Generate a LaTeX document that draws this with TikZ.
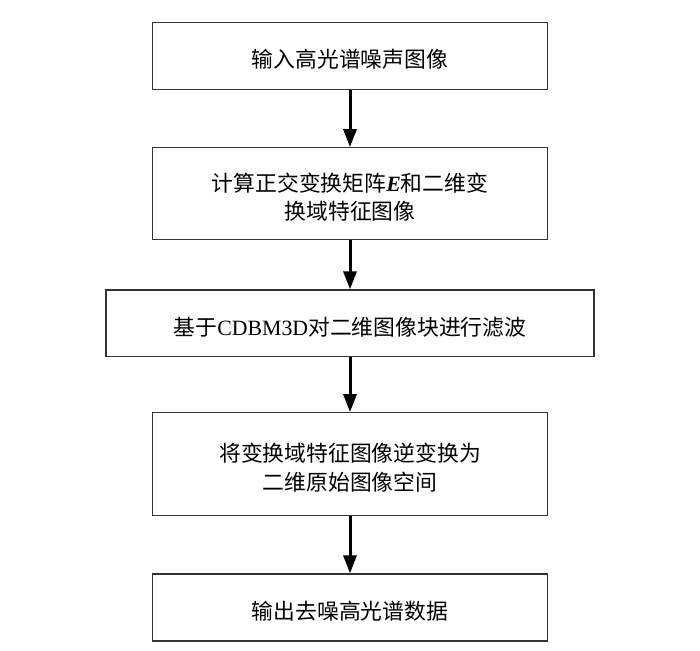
\documentclass[tikz,border=0pt]{standalone}
\usepackage{fontspec}
\setmainfont{Liberation Serif}
\newfontfamily\cjk{Noto Sans CJK SC}
\usetikzlibrary{arrows.meta}
\tikzset{
  box/.style={draw=black!80, line width=1.2pt, minimum width=395pt, inner sep=0pt},
  lbl/.style={inner sep=0pt, align=center, font=\fontsize{21.8}{28.5}\selectfont},
  flow/.style={line width=3pt, -{Triangle[length=18pt,width=13pt]}}
}
\begin{document}
\begin{tikzpicture}[x=1pt,y=-1pt]
\useasboundingbox (0,0) rectangle (700,650);
\node[box, minimum height=66.7pt] (b1) at (350,56) {};
\node[box, minimum height=91.6pt] (b2) at (350,193.5) {};
\node[box, minimum height=66.7pt, minimum width=488pt] (b3) at (350,323.3) {};
\node[box, minimum height=102.6pt] (b4) at (350,464) {};
\node[box, minimum height=67pt] (b5) at (350,607.5) {};
\node[lbl] (t1) at ([yshift=-3.5pt]b1.center) {\cjk 输入高光谱噪声图像};
\node[lbl] (t2) at ([yshift=-3.5pt]b2.center) {{\cjk 计算正交变换矩阵}\textbf{\textit{E}}{\cjk 和二维变}\\{\cjk 换域特征图像}};
\node[lbl] (t3) at ([yshift=-3.5pt]b3.center) {{\cjk 基于}CDBM3D{\cjk 对二维图像块进行滤波}};
\node[lbl] (t4) at ([yshift=-3.5pt]b4.center) {{\cjk 将变换域特征图像逆变换为}\\{\cjk 二维原始图像空间}};
\node[lbl] (t5) at ([yshift=-3.5pt]b5.center) {\cjk 输出去噪高光谱数据};
\draw[flow] (b1) -- (b2);
\draw[flow] (b2) -- (b3);
\draw[flow] (b3) -- (b4);
\draw[flow] (b4) -- (b5);
\end{tikzpicture}
\end{document}
